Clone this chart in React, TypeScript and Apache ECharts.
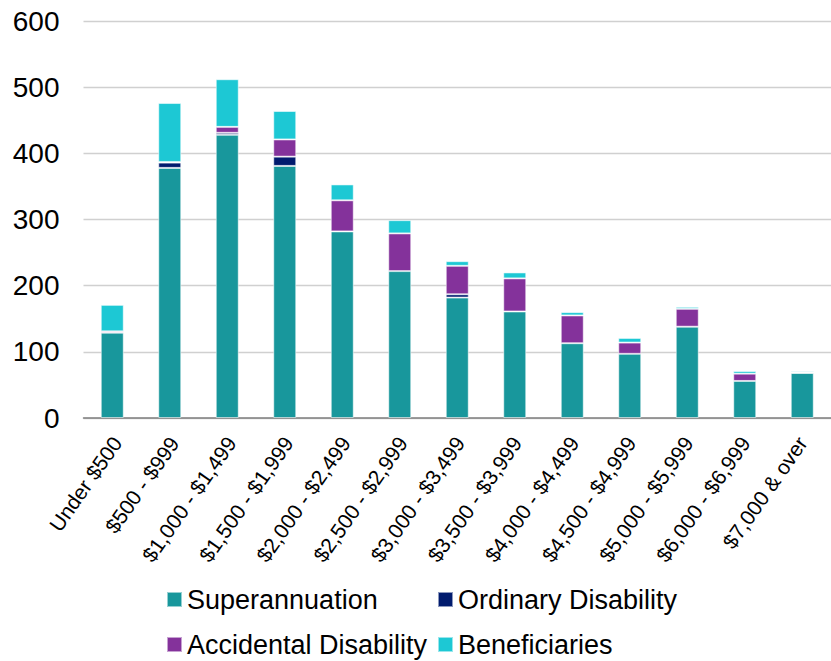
import React, { useEffect, useRef } from "react";
import * as echarts from "echarts";

const categories = [
  "Under $500",
  "$500 - $999",
  "$1,000 - $1,499",
  "$1,500 - $1,999",
  "$2,000 - $2,499",
  "$2,500 - $2,999",
  "$3,000 - $3,499",
  "$3,500 - $3,999",
  "$4,000 - $4,499",
  "$4,500 - $4,999",
  "$5,000 - $5,999",
  "$6,000 - $6,999",
  "$7,000 & over",
];

const superannuation = [129, 378, 428, 381, 282, 222, 182, 161, 113, 97, 138, 56, 68];
const ordinaryDisability = [0, 8, 3, 14, 0, 0, 5, 0, 0, 0, 0, 0, 0];
const accidentalDisability = [2, 1, 9, 26, 47, 57, 43, 50, 42, 17, 27, 11, 1];
const beneficiaries = [40, 89, 72, 43, 24, 20, 7, 9, 5, 7, 3, 4, 2];

const yTicks = { min: 0, max: 600, interval: 100 };

const FONT = "Liberation Sans, Arial, sans-serif";

export default function App() {
  const ref = useRef<HTMLDivElement>(null);

  useEffect(() => {
    if (!ref.current) return;
    const chart = echarts.init(ref.current, undefined, { renderer: "svg" });
    const clean = (arr: number[]) => arr.map((v) => (v === 0 ? null : v));
    const mk = (name: string, data: number[], color: string) => ({
      name,
      type: "bar",
      stack: "total",
      barWidth: 23,
      xAxisIndex: 0,
      yAxisIndex: 0,
      data: clean(data),
      itemStyle: { color, borderColor: "rgba(255,255,255,0.55)", borderWidth: 1 },
    });
    const legendItem = (name: string, left: number, top: number) => ({
      orient: "horizontal",
      left,
      top,
      padding: 0,
      itemWidth: 15,
      itemHeight: 15,
      icon: "rect",
      data: [name],
      textStyle: { fontSize: 27, color: "#000", fontFamily: FONT },
    });
    chart.setOption({
      animation: false,
      textStyle: { fontFamily: FONT },
      grid: [
        { left: 83.5, width: 754.5, top: 21, bottom: 243 },
        { left: 88.5, width: 754.5, top: 21, bottom: 243 },
      ],
      xAxis: [
        {
          type: "category",
          gridIndex: 0,
          data: categories,
          axisLine: { lineStyle: { color: "#7f7f7f", width: 1.5 } },
          axisTick: { show: false },
          axisLabel: { show: false },
        },
        {
          type: "category",
          gridIndex: 1,
          data: categories,
          axisLine: { show: false },
          axisTick: { show: false },
          axisLabel: {
            rotate: 55,
            interval: 0,
            margin: 21,
            fontSize: 21,
            color: "#000",
            fontFamily: FONT,
          },
        },
      ],
      yAxis: [
        {
          type: "value",
          gridIndex: 0,
          min: yTicks.min,
          max: yTicks.max,
          interval: yTicks.interval,
          axisLine: { show: false },
          axisTick: { show: false },
          splitLine: { lineStyle: { color: "#d0d0d0", width: 1.3 } },
          axisLabel: { margin: 24, fontSize: 28, color: "#000", fontFamily: FONT },
        },
        {
          type: "value",
          gridIndex: 1,
          min: yTicks.min,
          max: yTicks.max,
          interval: yTicks.interval,
          show: false,
        },
      ],
      legend: [
        legendItem("Superannuation", 166, 586),
        legendItem("Ordinary Disability", 437, 586),
        legendItem("Accidental Disability", 166, 631),
        legendItem("Beneficiaries", 437, 631),
      ],
      series: [
        mk("Superannuation", superannuation, "#18979c"),
        mk("Ordinary Disability", ordinaryDisability, "#011b6e"),
        mk("Accidental Disability", accidentalDisability, "#84329b"),
        mk("Beneficiaries", beneficiaries, "#1dc8d4"),
      ],
    });
    return () => chart.dispose();
  }, []);

  return (
    <div
      ref={ref}
      style={{ position: "absolute", left: 0, top: 0, width: 831, height: 661 }}
    />
  );
}
